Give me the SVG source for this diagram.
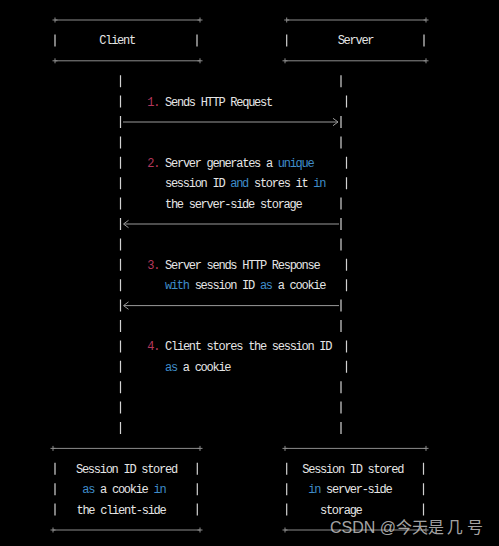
<svg xmlns="http://www.w3.org/2000/svg" width="499" height="546" viewBox="0 0 499 546">
<defs>
<style>
.t{font-family:"Liberation Mono","DejaVu Sans Mono",monospace;font-size:12px;letter-spacing:-1.27px;fill:#e6e6e6;white-space:pre}
.n{fill:#b5385c}
.k{fill:#3f8cc9}
.b{stroke:#8c8c8c;stroke-width:1;fill:none}
.v{stroke:#d2d2d2;stroke-width:1.2;fill:none}
.a{stroke:#9a9a9a;stroke-width:1;fill:none}
.wm{font-family:"Liberation Sans","Noto Sans","Noto Sans CJK SC",sans-serif;font-size:16px;fill:#cfcfcf;fill-opacity:0.8}
</style>
</defs>
<rect x="0" y="0" width="499" height="546" fill="#000"/>

<g id="client">
<path class="b" d="M55 20H200M55 60.8H200M55 17.5V22.5M52.5 20H57.5M200 17.5V22.5M197.5 20H202.5M55 58.3V63.3M52.5 60.8H57.5M200 58.3V63.3M197.5 60.8H202.5"/>
<path class="v" d="M55 34.4V46.4M197 34.4V46.4"/>
<text class="t" x="99.3" y="44.4">Client</text>
</g>

<g id="server">
<path class="b" d="M286.7 20H426M285 60.8H426M286.7 17.5V22.5M284.2 20H289.2M426 17.5V22.5M423.5 20H428.5M285 58.3V63.3M282.5 60.8H287.5M426 58.3V63.3M423.5 60.8H428.5"/>
<path class="v" d="M286.7 34.4V46.4M424 34.4V46.4"/>
<text class="t" x="337.7" y="44.4">Server</text>
</g>

<g id="connectors">
<path class="v" d="M120.5 75.2V87.2M120.5 95.6V107.6M120.5 116V128M120.5 136.4V148.4M120.5 156.8V168.8M120.5 177.2V189.2M120.5 197.6V209.6M120.5 218V230M120.5 238.4V250.4M120.5 258.8V270.8M120.5 279.2V291.2M120.5 299.6V311.6M120.5 320V332M120.5 340.4V352.4M120.5 360.8V372.8M120.5 381.2V393.2M120.5 401.6V413.6M120.5 422V434"/>
<path class="v" d="M341 75.2V87.2M346.5 95.6V107.6M341 116V128M341 136.4V148.4M346.5 156.8V168.8M346.5 177.2V189.2M341 197.6V209.6M341 218V230M341 238.4V250.4M346.5 258.8V270.8M346.5 279.2V291.2M341 299.6V311.6M341 320V332M346.5 340.4V352.4M346.5 360.8V372.8M341 381.2V393.2M341 401.6V413.6M341 422V434"/>
<g id="arrow1"><path class="a" d="M123 122H338M333 118.3L338 122L333 125.7"/></g>
<g id="arrow2"><path class="a" d="M124 224H339M128.5 220.3L123.5 224L128.5 227.7"/></g>
<g id="arrow3"><path class="a" d="M124 305.6H339M128.5 301.9L123.5 305.6L128.5 309.3"/></g>
</g>

<g id="step1">
<text class="t" x="147.3" y="105.6"><tspan class="n">1.</tspan> Sends HTTP Request</text>
</g>
<g id="step2">
<text class="t" x="147.3" y="166.8"><tspan class="n">2.</tspan> Server generates a <tspan class="k">unique</tspan></text>
<text class="t" x="165" y="187.2">session ID <tspan class="k">and</tspan> stores it <tspan class="k">in</tspan></text>
<text class="t" x="165" y="207.6">the server-side storage</text>
</g>
<g id="step3">
<text class="t" x="147.3" y="268.8"><tspan class="n">3.</tspan> Server sends HTTP Response</text>
<text class="t" x="165" y="289.2"><tspan class="k">with</tspan> session ID <tspan class="k">as</tspan> a cookie</text>
</g>
<g id="step4">
<text class="t" x="147.3" y="350.4"><tspan class="n">4.</tspan> Client stores the session ID</text>
<text class="t" x="165" y="370.8"><tspan class="k">as</tspan> a cookie</text>
</g>

<g id="client-store">
<path class="b" d="M53 448.4H200M53 530H200M53 445.9V450.9M50.5 448.4H55.5M200 445.9V450.9M197.5 448.4H202.5M53 527.5V532.5M50.5 530H55.5M200 527.5V532.5M197.5 530H202.5"/>
<path class="v" d="M55 462.8V474.8M197.3 462.8V474.8M55 483.2V495.2M197.3 483.2V495.2M55 503.6V515.6M197.3 503.6V515.6"/>
<text class="t" x="76" y="472.8">Session ID stored</text>
<text class="t" x="82.3" y="493.2"><tspan class="k">as</tspan> a cookie <tspan class="k">in</tspan></text>
<text class="t" x="76.5" y="513.6">the client-side</text>
</g>

<g id="server-store">
<path class="b" d="M285 448.4H426M285 530H426M285 445.9V450.9M282.5 448.4H287.5M426 445.9V450.9M423.5 448.4H428.5M285 527.5V532.5M282.5 530H287.5M426 527.5V532.5M423.5 530H428.5"/>
<path class="v" d="M286.7 462.8V474.8M423.5 462.8V474.8M286.7 483.2V495.2M423.5 483.2V495.2M286.7 503.6V515.6M423.5 503.6V515.6"/>
<text class="t" x="302.3" y="472.8">Session ID stored</text>
<text class="t" x="308.3" y="493.2"><tspan class="k">in</tspan> server-side</text>
<text class="t" x="320" y="513.6">storage</text>
</g>

<text class="wm" y="533"><tspan x="330">CSDN @今天是</tspan><tspan x="446.7">几</tspan><tspan x="467">号</tspan></text>
</svg>
